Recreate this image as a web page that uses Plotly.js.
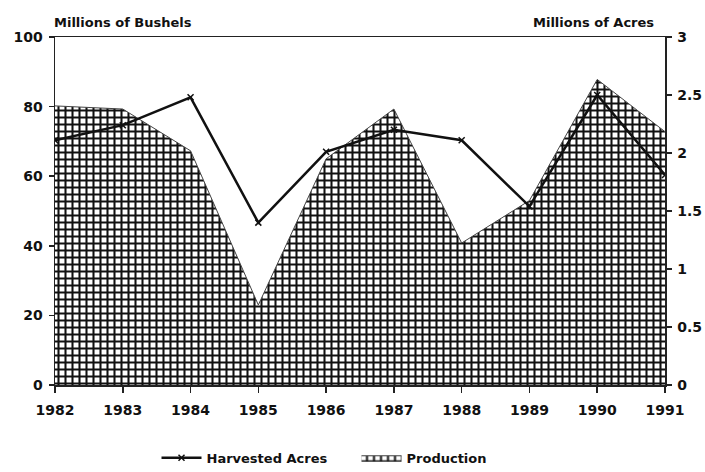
<!DOCTYPE html>
<html>
<head>
<meta charset="utf-8">
<script src="https://cdn.plot.ly/plotly-3.0.1.min.js"></script>
<style>html,body{margin:0;padding:0;background:#fff;}#chart{width:705px;height:472px;}</style>
</head>
<body>
<div id="chart"></div>
<script>
const years = ['1982','1983','1984','1985','1986','1987','1988','1989','1990','1991'];
const production = [80.2, 79.3, 67.3, 23, 65, 79.3, 40.8, 53, 87.8, 72.8];
const harvestedAcres = [2.11, 2.24, 2.48, 1.40, 2.01, 2.20, 2.11, 1.54, 2.50, 1.81];
const leftTicks = [0, 20, 40, 60, 80, 100];
const rightTicks = [0, 0.5, 1, 1.5, 2, 2.5, 3];

const FAM = 'DejaVu Sans, Arial, sans-serif';
const tickFont = {family: FAM, size: 14, color: '#111', weight: 'bold'};

const traces = [
  {
    x: years, y: production, name: 'Production', type: 'scatter', mode: 'lines',
    fill: 'tozeroy', line: {width: 1, color: '#444'},
    fillcolor: 'white',
    fillpattern: {shape: '+', size: 7, solidity: 0.5, fgcolor: '#111', bgcolor: 'white', fillmode: 'replace'},
    yaxis: 'y', legendrank: 2
  },
  {
    x: years, y: harvestedAcres, name: 'Harvested Acres', type: 'scatter', mode: 'lines+markers',
    line: {color: '#111', width: 2.5},
    marker: {symbol: 'x-thin', size: 6, color: '#111', line: {width: 1.5, color: '#111'}},
    yaxis: 'y2', legendrank: 1
  }
];

const layout = {
  width: 705, height: 472,
  margin: {l: 55, r: 40, t: 37, b: 87},
  paper_bgcolor: 'white', plot_bgcolor: 'white',
  font: {family: FAM, size: 13, color: '#111'},
  showlegend: true,
  legend: {orientation: 'h', x: 0.222, xanchor: 'left', xref: 'container',
           y: 0.03, yanchor: 'middle', yref: 'container',
           font: {family: FAM, size: 13, color: '#111', weight: 'bold'},
           traceorder: 'normal', itemwidth: 40, entrywidth: 145},
  xaxis: {
    type: 'category', tickvals: years, ticktext: years,
    range: [0, years.length - 1], automargin: false,
    showgrid: false, zeroline: false,
    showline: true, linecolor: '#222', linewidth: 1.5, mirror: true,
    ticks: 'outside', ticklen: 6, tickcolor: '#222', tickwidth: 1.5,
    ticklabelstandoff: 6,
    tickfont: tickFont
  },
  yaxis: {
    range: [0, 100], tickvals: leftTicks, showgrid: false, zeroline: false, automargin: false,
    showline: true, linecolor: '#222', linewidth: 1.5,
    ticks: 'outside', ticklen: 5, tickcolor: '#222', tickwidth: 1.5,
    ticklabelstandoff: 3,
    tickfont: tickFont
  },
  yaxis2: {
    range: [0, 3], tickvals: rightTicks, overlaying: 'y', side: 'right', automargin: false,
    showgrid: false, zeroline: false,
    showline: true, linecolor: '#222', linewidth: 1.5,
    ticks: 'outside', ticklen: 5, tickcolor: '#222', tickwidth: 1.5,
    ticklabelstandoff: 3,
    tickfont: tickFont
  },
  annotations: [
    {text: 'Millions of Bushels', xref: 'paper', yref: 'paper', x: -0.005, y: 1.015, xanchor: 'left', yanchor: 'bottom',
     showarrow: false, font: {family: FAM, size: 13, color: '#111', weight: 'bold'}},
    {text: 'Millions of Acres', xref: 'paper', yref: 'paper', x: 0.985, y: 1.015, xanchor: 'right', yanchor: 'bottom',
     showarrow: false, font: {family: FAM, size: 13, color: '#111', weight: 'bold'}}
  ]
};

Plotly.newPlot('chart', traces, layout, {displayModeBar: false, staticPlot: true});
</script>
</body>
</html>
